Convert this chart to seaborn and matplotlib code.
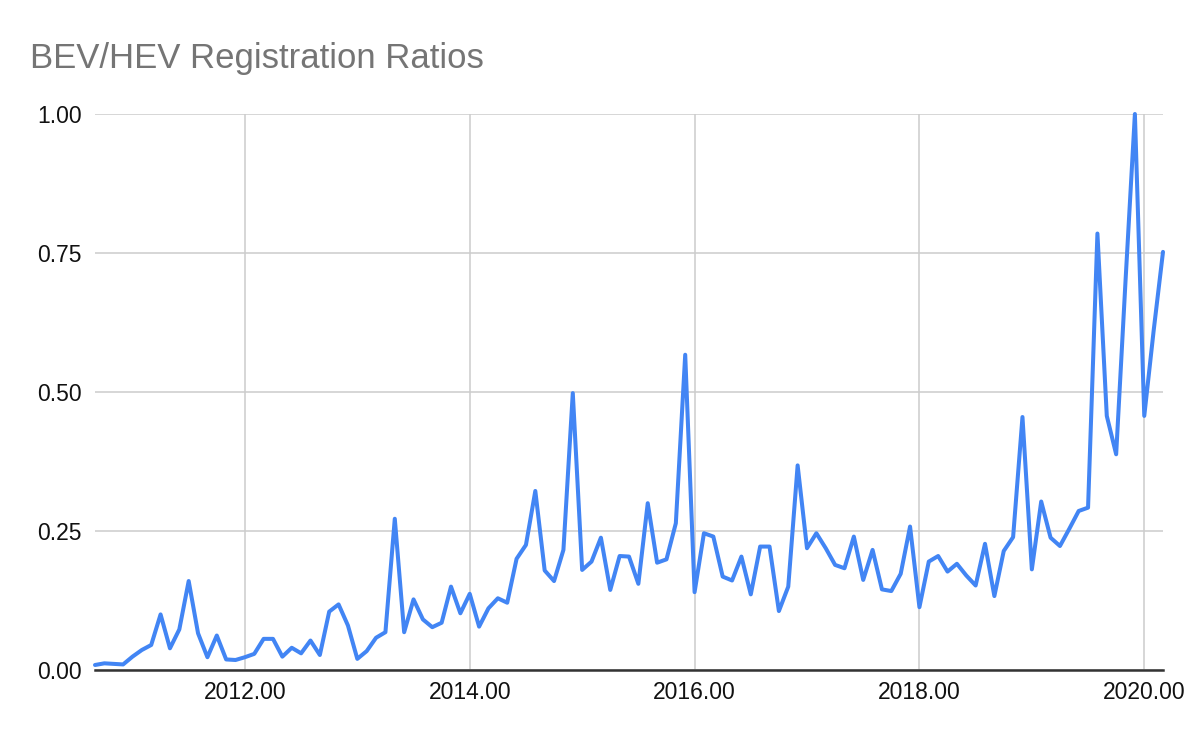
import numpy as np
import pandas as pd
import matplotlib
matplotlib.use("Agg")
import matplotlib.pyplot as plt
import seaborn as sns

# monthly series, first point is September 2010
start_year = 2010
start_month = 9

ratio = [
    0.009, 0.012, 0.011, 0.010,                                                  # 2010 Sep-Dec
    0.024, 0.036, 0.045, 0.100, 0.039, 0.073, 0.160, 0.066, 0.023, 0.062, 0.019, 0.018,  # 2011
    0.023, 0.029, 0.056, 0.056, 0.024, 0.040, 0.030, 0.053, 0.027, 0.105, 0.118, 0.080,  # 2012
    0.020, 0.034, 0.058, 0.068, 0.272, 0.068, 0.127, 0.091, 0.077, 0.085, 0.150, 0.102,  # 2013
    0.137, 0.078, 0.111, 0.129, 0.121, 0.200, 0.225, 0.322, 0.179, 0.160, 0.216, 0.498,  # 2014
    0.180, 0.195, 0.238, 0.144, 0.205, 0.204, 0.155, 0.300, 0.193, 0.199, 0.264, 0.567,  # 2015
    0.140, 0.246, 0.240, 0.168, 0.161, 0.204, 0.136, 0.222, 0.222, 0.106, 0.150, 0.368,  # 2016
    0.219, 0.246, 0.219, 0.189, 0.183, 0.240, 0.162, 0.216, 0.145, 0.142, 0.173, 0.258,  # 2017
    0.113, 0.195, 0.205, 0.177, 0.191, 0.170, 0.152, 0.227, 0.133, 0.214, 0.239, 0.455,  # 2018
    0.181, 0.303, 0.238, 0.223, 0.254, 0.286, 0.292, 0.785, 0.457, 0.388, 0.700, 1.000,  # 2019
    0.457, 0.610, 0.752,                                                         # 2020 Jan-Mar
]

x_ticks = [2012, 2014, 2016, 2018, 2020]
y_ticks = [0.0, 0.25, 0.5, 0.75, 1.0]

year = start_year + (start_month - 1 + np.arange(len(ratio))) / 12
df = pd.DataFrame({"year": year, "ratio": ratio})

sns.set_style("white")
plt.rcParams["font.family"] = ["Liberation Sans", "DejaVu Sans"]

fig = plt.figure(figsize=(12, 7.42), dpi=100)
ax = fig.add_axes([95 / 1200, 1 - 670 / 742, (1163 - 95) / 1200, (670 - 114) / 742])

sns.lineplot(data=df, x="year", y="ratio", ax=ax, color="#4285F4", linewidth=2.9)
# let the 1.00 peak show its full tip like the original
for line in ax.lines:
    line.set_clip_on(False)

ax.set_xlim(df["year"].iloc[0], df["year"].iloc[-1])
ax.set_ylim(0, 1.0)
ax.set_xticks(x_ticks)
ax.set_xticklabels([f"{t:.2f}" for t in x_ticks])
ax.set_yticks(y_ticks)
ax.set_yticklabels([f"{t:.2f}" for t in y_ticks])
ax.set_xlabel("")
ax.set_ylabel("")

ax.grid(True, color="#cccccc", linewidth=1.1)
ax.set_axisbelow(True)
for side in ["top", "right", "left"]:
    ax.spines[side].set_visible(False)
ax.spines["bottom"].set_color("#333333")
ax.spines["bottom"].set_linewidth(1.8)
ax.spines["bottom"].set_zorder(5)

ax.tick_params(axis="both", length=0, labelsize=16.5, labelcolor="#111111")
ax.tick_params(axis="y", pad=9.5)
ax.tick_params(axis="x", pad=8)

fig.text(30 / 1200, 1 - 68 / 742, "BEV/HEV Registration Ratios",
         fontsize=25, color="#757575", ha="left", va="baseline")

fig.savefig("out.png", dpi=100)
